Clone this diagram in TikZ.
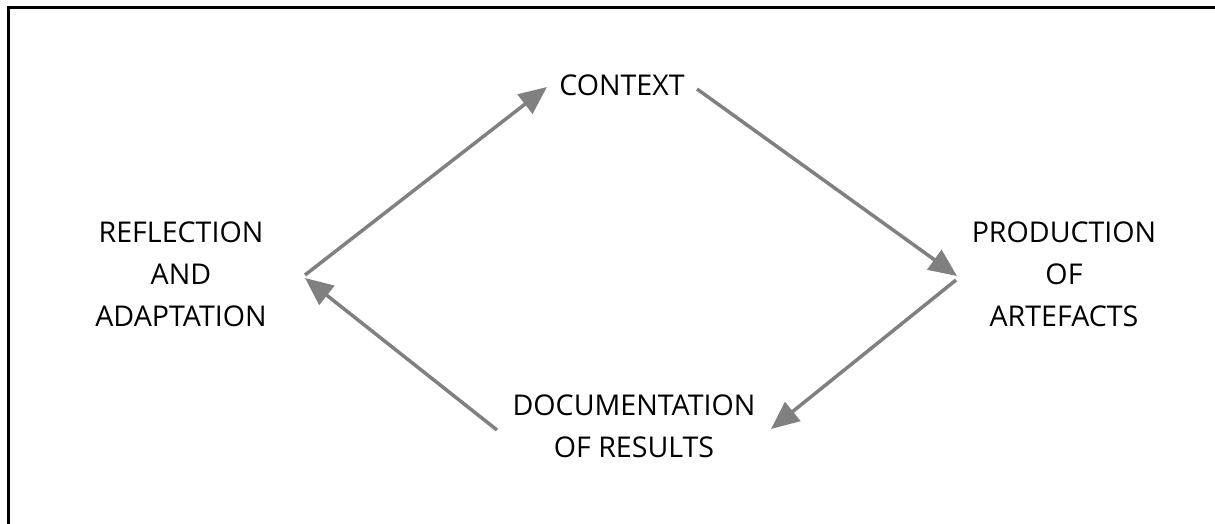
\documentclass[tikz,border=0pt]{standalone}
\usepackage{fontspec}
\setmainfont{Open Sans}
\usetikzlibrary{arrows.meta}
\definecolor{flowgray}{HTML}{808080}
\begin{document}
\begin{tikzpicture}[x=1pt,y=-1pt,
  label/.style={font=\fontsize{28.6}{42}\selectfont, align=center, text=black, inner sep=0pt},
  flow/.style={draw=flowgray, line width=3.5pt,
    -{Triangle[length=28pt,width=24pt]}}]
  \useasboundingbox (0,0) rectangle (1215,524);
  % frame on the top and left
  \draw[line width=2.5pt, black] (8.5,530) -- (8.5,7.5) -- (1220,7.5);

  % stage labels
  \node[label] (context) at (622,85) {CONTEXT};
  \node[label] (production) at (1064,274) {PRODUCTION\\OF\\ARTEFACTS};
  \node[label] (documentation) at (634,426) {DOCUMENTATION\\OF RESULTS};
  \node[label] (reflection) at (181,274) {REFLECTION\\AND\\ADAPTATION};

  % arrow end points around the cycle
  \coordinate (refl-out) at (305,275);
  \coordinate (ctx-in)   at (547,87);
  \coordinate (ctx-out)  at (697,89);
  \coordinate (prod-in)  at (957,276);
  \coordinate (prod-out) at (956,280);
  \coordinate (doc-in)   at (771,429);
  \coordinate (doc-out)  at (497,430);
  \coordinate (refl-in)  at (305,278);

  \draw[flow] (refl-out) -- (ctx-in);
  \draw[flow] (ctx-out) -- (prod-in);
  \draw[flow] (prod-out) -- (doc-in);
  \draw[flow] (doc-out) -- (refl-in);
\end{tikzpicture}
\end{document}
